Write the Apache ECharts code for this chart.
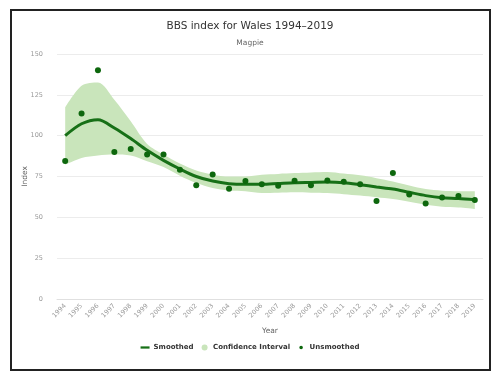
<!DOCTYPE html>
<html><head><meta charset="utf-8">
<script src="https://cdn.jsdelivr.net/npm/echarts@6/dist/echarts.min.js"></script>
<style>html,body{margin:0;padding:0;background:#fff}#c{width:500px;height:380px}</style>
</head><body><div id="c"></div>
<script>
const years = ['1994','1995','1996','1997','1998','1999','2000','2001','2002','2003','2004','2005','2006','2007','2008','2009','2010','2011','2012','2013','2014','2015','2016','2017','2018','2019'];
const smoothed = [100,107.3,109.8,104.7,98.2,91,84.9,79.6,75,72.2,70.6,70.2,70.2,70.7,71.2,71.4,71.6,71.2,70,68.6,67.3,65.3,63.3,62,61.6,60.8];
const ciUpper = [117.3,130.6,132.6,122,108.8,94.9,88.4,82.9,78.6,76.1,75,75,76.1,76.6,77.1,77.5,77.8,76.8,75.7,74,72,69.5,67.3,66.3,66,65.9];
const ciLower = [82.2,86.3,87.8,88.4,87.8,84.3,80.8,75.5,71,68,66.5,66,64.9,65.1,65.3,65.1,64.9,64.2,63.3,62.3,61.2,59.5,57.7,56.5,56,55.1];
const unsmoothed = [84.5,113.5,140,90,91.8,88.4,88.4,79.2,69.6,76.3,67.5,72.3,70.2,69.4,72.4,69.6,72.6,71.8,70.2,60,77.1,64,58.5,62.2,63,60.6];
const yTicks = [0,25,50,75,100,125,150];

const chart = echarts.init(document.getElementById('c'), null, {renderer:'canvas'});
const band = ciUpper.map((u,i)=>+(u-ciLower[i]).toFixed(2));
const lineColor = '#177017', dotColor = '#0d670d', bandColor = '#c9e5bb';
const F = 'DejaVu Sans';
chart.setOption({
  animation:false,
  title:{text:'BBS index for Wales 1994–2019', subtext:'Magpie', left:'center', top:16,
    textStyle:{fontSize:10.5, fontWeight:'normal', color:'#333', fontFamily:F},
    subtextStyle:{fontSize:7.5, color:'#666', fontFamily:F}, itemGap:7},
  graphic:[{type:'rect', shape:{x:11,y:10,width:479,height:360}, style:{fill:'none', stroke:'#222', lineWidth:2}, silent:true}],
  legend:{bottom:24, left:'center', itemGap:8, itemWidth:9, itemHeight:6,
    textStyle:{fontSize:7, fontWeight:'bold', color:'#333', fontFamily:F, padding:[0,0,0,-1]},
    data:[{name:'Smoothed', icon:'path://M0,0 L12,0 L12,3 L0,3 Z', itemStyle:{color:lineColor}},
          {name:'Confidence Interval', icon:'circle', itemStyle:{color:bandColor}},
          {name:'Unsmoothed', icon:'path://M0,0 M3,3 m-1.8,0 a1.8,1.8 0 1,0 3.6,0 a1.8,1.8 0 1,0 -3.6,0 M6,6', itemStyle:{color:dotColor}}]},
  grid:{left:57, right:17, top:54, bottom:81},
  xAxis:{type:'category', data:years, boundaryGap:true, name:'Year', nameLocation:'middle', nameGap:28, nameMoveOverlap:false,
    nameTextStyle:{fontSize:7.5, color:'#666', fontFamily:F},
    axisLine:{show:true, lineStyle:{color:'#e0e0e0'}}, axisTick:{show:false},
    axisLabel:{rotate:45, fontSize:6.5, color:'#999', interval:0, margin:6, fontFamily:F}},
  yAxis:{type:'value', min:yTicks[0], max:yTicks[yTicks.length-1], interval:25, name:'Index', nameLocation:'middle', nameGap:28, nameMoveOverlap:false,
    nameTextStyle:{fontSize:7.5, color:'#666', fontFamily:F},
    axisLine:{show:false}, axisTick:{show:false},
    axisLabel:{fontSize:6.5, color:'#999', margin:14, fontFamily:F},
    splitLine:{lineStyle:{color:'#ececec'}}},
  series:[
    {name:'ciLower', type:'line', data:ciLower, stack:'ci', smooth:0.3, symbol:'none', lineStyle:{opacity:0}, silent:true, legendHoverLink:false},
    {name:'Confidence Interval', type:'line', data:band, stack:'ci', smooth:0.3, symbol:'none', lineStyle:{opacity:0}, itemStyle:{color:bandColor}, areaStyle:{color:bandColor, opacity:1}},
    {name:'Smoothed', type:'line', data:smoothed, smooth:0.3, symbol:'none', lineStyle:{color:lineColor, width:3}, itemStyle:{color:lineColor}, z:3},
    {name:'Unsmoothed', type:'scatter', data:unsmoothed, symbolSize:6, itemStyle:{color:dotColor, opacity:1}, z:4}
  ]
});
</script></body></html>
